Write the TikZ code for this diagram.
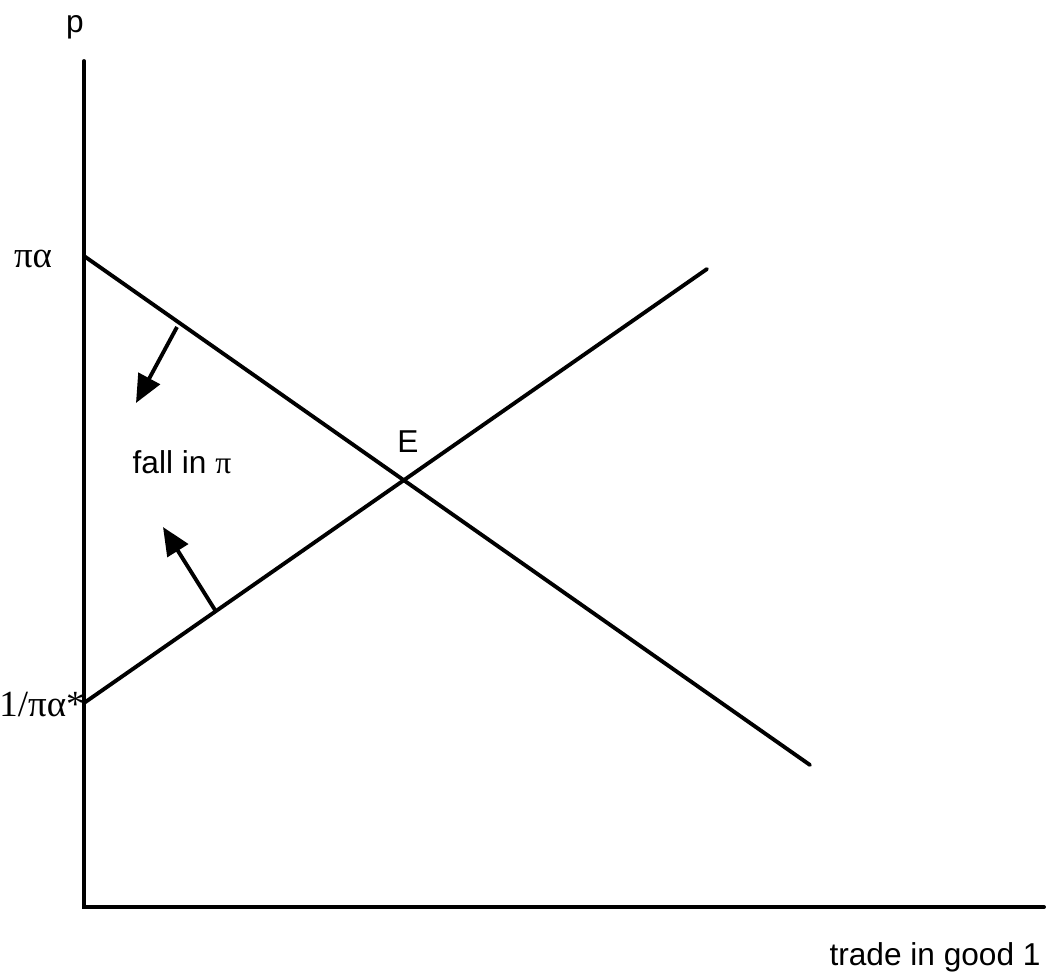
\documentclass[tikz,border=0pt]{standalone}
\usepackage{fontspec}
\setmainfont{Liberation Sans}
\newfontfamily\greekserif{Liberation Serif}
\usetikzlibrary{arrows.meta,calc}

\begin{document}
\begin{tikzpicture}[
    curve/.style={line width=1.1pt, line cap=round},
    shiftarrow/.style={line width=1.1pt, -{Triangle[length=2.8mm, width=2.4mm]}},
    lbl/.style={font=\fontsize{9}{11}\selectfont, inner sep=0pt},
    sym/.style={font=\fontsize{10.5}{12}\selectfont\greekserif, inner sep=0pt}
]
    \useasboundingbox (0,0) rectangle (10.46,9.76);

    % Axes
    \coordinate (origin) at (0.84,0.69);
    \coordinate (ytop) at (0.84,9.15);
    \coordinate (xend) at (10.44,0.69);
    \draw[curve] (ytop) -- (origin) -- (xend);

    % Curves
    \coordinate (dtop) at (0.84,7.20);
    \coordinate (dend) at (8.10,2.11);
    \coordinate (sbot) at (0.84,2.73);
    \coordinate (send) at (7.07,7.07);
    \draw[curve] (dtop) -- (dend);
    \draw[curve] (sbot) -- (send);

    % Shifts
    \coordinate (dfrom) at (1.77,6.49);
    \coordinate (dto) at (1.36,5.73);
    \coordinate (sfrom) at (2.15,3.66);
    \coordinate (sto) at (1.63,4.49);
    \draw[shiftarrow] (dfrom) -- (dto);
    \draw[shiftarrow] (sfrom) -- (sto);

    % Labels
    \node[lbl] (plabel) at (0.75,9.49) {p};
    \node[sym] (pialpha) at (0.33,7.17) {πα};
    \node[sym] (invpialpha) at (0.42,2.72) {1/πα*};
    \node[lbl] (elabel) at (4.08,5.34) {E};
    \node[lbl] (fall) at (1.82,5.14) {fall in {\greekserif π}};
    \node[lbl] (xlabel) at (9.35,0.19) {trade in good 1};
\end{tikzpicture}
\end{document}
